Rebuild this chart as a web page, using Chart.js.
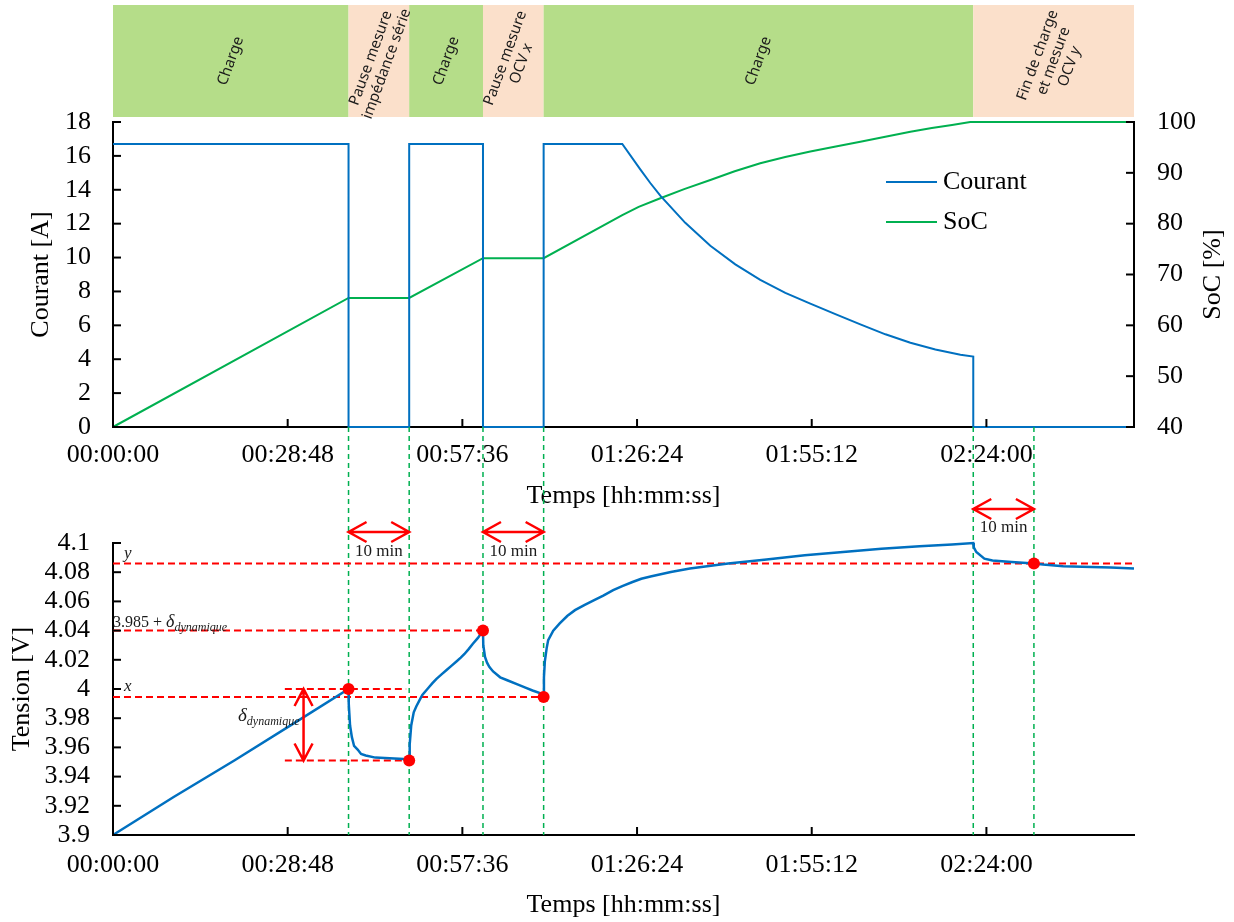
<!DOCTYPE html>
<html>
<head>
<meta charset="utf-8">
<script src="https://cdn.jsdelivr.net/npm/chart.js@4.4.1/dist/chart.umd.min.js"></script>
<style>
  html, body { margin: 0; padding: 0; background: #fff; }
  #wrap { position: relative; width: 1234px; height: 922px; }
  canvas { position: absolute; left: 0; top: 0; }
</style>
</head>
<body>
<div id="wrap">
  <canvas id="topChart" width="1234" height="922"></canvas>
  <canvas id="bottomChart" width="1234" height="922"></canvas>
</div>
<script>
// ---- data (time in seconds) ----
const tMax = 10100;
const timeTicks = [0, 1728, 3456, 5184, 6912, 8640];

const phaseStart = [0, 2330, 2930, 3660, 4260, 8510];
const phaseEnd = [2330, 2930, 3660, 4260, 8510, 10100];
const phaseIsCharge = [true, false, true, false, true, false];
const phaseLabels = [
  ['Charge'],
  ['Pause mesure', 'impédance série'],
  ['Charge'],
  ['Pause mesure', 'OCV *x*'],
  ['Charge'],
  ['Fin de charge', 'et mesure', 'OCV *y*']
];
const markerTimes = [2330, 2930, 3660, 4260, 8510, 9110];

const courantTime = [0, 2330, 2330, 2930, 2930, 3660, 3660, 4260, 4260, 5038, 5216, 5315, 5414, 5661, 5909, 6156, 6403, 6651,
  6898, 7146, 7393, 7641, 7888, 8135, 8383, 8510, 8510, 10100];
const courantVal = [16.7, 16.7, 0, 0, 16.7, 16.7, 0, 0, 16.7, 16.7, 15.2, 14.4, 13.65, 12.05, 10.7, 9.6, 8.68, 7.92,
  7.28, 6.66, 6.06, 5.47, 4.97, 4.57, 4.27, 4.16, 0, 0];

const socTime = [0, 2330, 2930, 3660, 4260, 5038, 5200, 5414, 5650, 5909, 6150, 6403, 6650, 6898, 7150, 7393, 7640,
  7888, 8100, 8300, 8480, 10100];
const socVal = [40, 65.4, 65.4, 73.2, 73.2, 81.7, 83.3, 85.0, 86.8, 88.6, 90.3, 91.9, 93.1, 94.2, 95.2, 96.1, 97.1,
  98.1, 98.8, 99.4, 100, 100];

const tensionTime = [0, 600, 1200, 1800, 2330,
  2332, 2345, 2363, 2385, 2420, 2454, 2500, 2595, 2877, 2930,
  2935, 2950, 2975, 3000, 3030, 3060, 3123, 3160, 3200, 3250, 3300, 3350, 3400, 3440, 3477, 3520, 3560, 3610, 3660,
  3663, 3680, 3700, 3724, 3760, 3830, 3900, 4007, 4080, 4150, 4230, 4260,
  4263, 4272, 4290, 4305, 4355, 4419, 4493, 4570, 4662, 4760, 4850, 4948, 5038, 5139, 5226, 5328, 5518, 5707,
  6086, 6465, 6843, 7222, 7601, 7979, 8300, 8510,
  8515, 8540, 8620, 8700, 8890, 9110, 9200, 9400, 9870, 10100];
const tensionVal = [3.900, 3.926, 3.951, 3.977, 4.000,
  3.990, 3.975, 3.967, 3.961, 3.9585, 3.9555, 3.9545, 3.953, 3.952, 3.951,
  3.962, 3.975, 3.984, 3.988, 3.992, 3.996, 4.001, 4.004, 4.007, 4.010, 4.013, 4.016, 4.019, 4.0215, 4.024, 4.0275, 4.031, 4.035, 4.040,
  4.030, 4.022, 4.018, 4.015, 4.012, 4.008, 4.006, 4.003, 4.001, 3.999, 3.997, 3.9945,
  4.008, 4.019, 4.028, 4.0335, 4.040, 4.0449, 4.050, 4.054, 4.0575, 4.0608, 4.064, 4.0677, 4.0705, 4.0733, 4.0755, 4.0772, 4.0802, 4.0825,
  4.0859, 4.0887, 4.0916, 4.0938, 4.0961, 4.0978, 4.099, 4.100,
  4.097, 4.0938, 4.0893, 4.088, 4.087, 4.086, 4.0852, 4.0841, 4.0832, 4.0825];

const pointTime = [2330, 2930, 3660, 4260, 9110];
const pointVal = [4.000, 3.951, 4.040, 3.9945, 4.086];

// annotation extents for the delta bracket
const deltaLineFrom = 1700;
const deltaLineTo = 2900;
const deltaArrowAt = 1885;

const serif = '"Liberation Serif", "Times New Roman", serif';
const bandFont = '"Noto Sans", "Liberation Sans", sans-serif';
Chart.defaults.font.family = serif;
Chart.defaults.font.size = 26;
Chart.defaults.color = '#000';

function hms(sec) {
  const h = Math.floor(sec / 3600), m = Math.floor((sec % 3600) / 60), s = Math.round(sec % 60);
  return [h, m, s].map(v => String(v).padStart(2, '0')).join(':');
}

function xy(ts, vs) {
  return ts.map((t, i) => ({ x: t, y: vs[i] }));
}

function parseRuns(line) {
  return line.split('*').map((t, i) => ({ t, italic: i % 2 === 1 })).filter(r => r.t);
}

function drawRunsCentered(ctx, runs, size, family, y) {
  let w = 0;
  runs.forEach(r => {
    ctx.font = (r.italic ? 'italic ' : '') + size + 'px ' + family;
    r.w = ctx.measureText(r.t).width;
    w += r.w;
  });
  let x = -w / 2;
  runs.forEach(r => {
    ctx.font = (r.italic ? 'italic ' : '') + size + 'px ' + family;
    ctx.fillText(r.t, x, y);
    x += r.w;
  });
}

// draws an optional prefix, then "main" with an italic subscript (baseline y)
function drawSub(ctx, x, y, prefix, main, sub, big) {
  ctx.textAlign = 'left';
  ctx.textBaseline = 'alphabetic';
  if (prefix) {
    ctx.font = '16px ' + serif;
    ctx.fillText(prefix, x, y);
    x += ctx.measureText(prefix).width;
  }
  ctx.font = 'italic ' + big + 'px ' + serif;
  ctx.fillText(main, x, y);
  x += ctx.measureText(main).width;
  ctx.font = 'italic ' + Math.round(big * 0.65) + 'px ' + serif;
  ctx.fillText(sub, x, y + 4);
}

const gridOff = { display: false, drawTicks: false };
const axisBorder = { display: true, color: '#000', width: 2 };

const inwardTicks = {
  id: 'inwardTicks',
  afterDraw(chart) {
    const ctx = chart.ctx, a = chart.chartArea;
    ctx.save();
    ctx.strokeStyle = '#000';
    ctx.lineWidth = 2;
    Object.values(chart.scales).forEach(s => {
      s.ticks.forEach(t => {
        const p = s.getPixelForValue(t.value);
        ctx.beginPath();
        if (s.axis === 'x') { ctx.moveTo(p, a.bottom); ctx.lineTo(p, a.bottom - 8); }
        else if (s.position === 'left') { ctx.moveTo(a.left, p); ctx.lineTo(a.left + 8, p); }
        else { ctx.moveTo(a.right, p); ctx.lineTo(a.right - 8, p); }
        ctx.stroke();
      });
    });
    ctx.restore();
  }
};

const phaseBands = {
  id: 'phaseBands',
  afterDraw(chart) {
    const ctx = chart.ctx, x = chart.scales.x;
    ctx.save();
    const px = phaseStart.map((t0, i) => [x.getPixelForValue(t0), x.getPixelForValue(phaseEnd[i])]);
    px.forEach(([x0, x1], i) => {
      ctx.fillStyle = phaseIsCharge[i] ? '#b5dd89' : '#fbe0cb';
      ctx.fillRect(x0, 5, x1 - x0, 112);
    });
    px.forEach(([x0, x1], i) => {
      ctx.save();
      ctx.translate((x0 + x1) / 2, 61);
      ctx.rotate(-70 * Math.PI / 180);
      ctx.fillStyle = '#1a1a1a';
      ctx.textAlign = 'left';
      ctx.textBaseline = 'middle';
      const lines = phaseLabels[i];
      lines.forEach((ln, k) => drawRunsCentered(ctx, parseRuns(ln), 15, bandFont, (k - (lines.length - 1) / 2) * 17));
      ctx.restore();
    });
    ctx.restore();
  }
};

const topDecor = {
  id: 'topDecor',
  afterDraw(chart) {
    const ctx = chart.ctx, a = chart.chartArea;
    ctx.save();
    // legend
    const items = [['Courant', '#0070c0', 182], ['SoC', '#00b050', 222]];
    ctx.lineWidth = 2;
    ctx.font = '26px ' + serif;
    ctx.textAlign = 'left';
    ctx.textBaseline = 'middle';
    items.forEach(([txt, col, yy]) => {
      ctx.strokeStyle = col;
      ctx.beginPath(); ctx.moveTo(886, yy); ctx.lineTo(937, yy); ctx.stroke();
      ctx.fillStyle = '#000';
      ctx.fillText(txt, 943, yy);
    });
    // right axis title, reading bottom to top
    ctx.translate(1213, (a.top + a.bottom) / 2);
    ctx.rotate(-Math.PI / 2);
    ctx.textAlign = 'center';
    ctx.fillText('SoC [%]', 0, 0);
    ctx.restore();
  }
};

const topChart = new Chart(document.getElementById('topChart'), {
  type: 'line',
  data: {
    datasets: [
      { label: 'Courant', data: xy(courantTime, courantVal), borderColor: '#0070c0', borderWidth: 2,
        pointRadius: 0, tension: 0, yAxisID: 'y', clip: false },
      { label: 'SoC', data: xy(socTime, socVal), borderColor: '#00b050', borderWidth: 2,
        pointRadius: 0, tension: 0, yAxisID: 'y1', clip: false }
    ]
  },
  options: {
    responsive: false,
    animation: false,
    events: [],
    layout: { padding: { top: 122, bottom: 410, left: 0, right: 0 } },
    plugins: { legend: { display: false }, tooltip: { enabled: false } },
    scales: {
      x: {
        type: 'linear', min: 0, max: tMax,
        afterBuildTicks: s => { s.ticks = timeTicks.map(v => ({ value: v })); },
        ticks: { callback: v => hms(v), padding: 13, maxRotation: 0, autoSkip: false },
        grid: gridOff, border: axisBorder,
        title: { display: true, text: 'Temps [hh:mm:ss]', padding: { top: 0, bottom: 0 } },
        afterFit: s => { s.height = 85; }
      },
      y: {
        position: 'left', min: 0, max: 18,
        ticks: { stepSize: 2, padding: 22, autoSkip: false },
        grid: gridOff, border: axisBorder,
        title: { display: true, text: 'Courant [A]', padding: { top: 26, bottom: 0 } },
        afterFit: s => { s.width = 113; }
      },
      y1: {
        position: 'right', min: 40, max: 100,
        ticks: { stepSize: 10, padding: 23, autoSkip: false },
        grid: gridOff, border: axisBorder,
        afterFit: s => { s.width = 100; }
      }
    }
  },
  plugins: [phaseBands, topDecor, inwardTicks]
});

function hArrow(ctx, x0, x1, y) {
  ctx.beginPath();
  ctx.moveTo(x0, y); ctx.lineTo(x1, y);
  ctx.moveTo(x0 + 18, y - 10); ctx.lineTo(x0, y); ctx.lineTo(x0 + 18, y + 10);
  ctx.moveTo(x1 - 18, y - 10); ctx.lineTo(x1, y); ctx.lineTo(x1 - 18, y + 10);
  ctx.stroke();
}

function vArrow(ctx, x, y0, y1) {
  ctx.beginPath();
  ctx.moveTo(x, y0); ctx.lineTo(x, y1);
  ctx.moveTo(x - 9, y0 + 17); ctx.lineTo(x, y0); ctx.lineTo(x + 9, y0 + 17);
  ctx.moveTo(x - 9, y1 - 17); ctx.lineTo(x, y1); ctx.lineTo(x + 9, y1 - 17);
  ctx.stroke();
}

function seg(ctx, x0, y0, x1, y1) {
  ctx.beginPath(); ctx.moveTo(x0, y0); ctx.lineTo(x1, y1); ctx.stroke();
}

const bottomDecor = {
  id: 'bottomDecor',
  beforeDatasetsDraw(chart) {
    const { ctx, chartArea: a, scales: { x, y } } = chart;
    ctx.save();
    // phase boundaries, running down from the upper chart's axis
    ctx.strokeStyle = '#00b050';
    ctx.lineWidth = 1.5;
    ctx.setLineDash([5, 4]);
    const yTop = topChart.chartArea.bottom;
    markerTimes.forEach(t => {
      const px = x.getPixelForValue(t);
      seg(ctx, px, yTop, px, a.bottom);
    });
    // reference voltages
    ctx.strokeStyle = '#ff0000';
    ctx.lineWidth = 2;
    ctx.setLineDash([7, 4]);
    seg(ctx, a.left, y.getPixelForValue(pointVal[4]), a.right, y.getPixelForValue(pointVal[4]));
    seg(ctx, a.left, y.getPixelForValue(pointVal[2]), x.getPixelForValue(pointTime[2]), y.getPixelForValue(pointVal[2]));
    seg(ctx, a.left, y.getPixelForValue(pointVal[3]), x.getPixelForValue(pointTime[3]), y.getPixelForValue(pointVal[3]));
    seg(ctx, x.getPixelForValue(deltaLineFrom), y.getPixelForValue(pointVal[0]), x.getPixelForValue(deltaLineTo), y.getPixelForValue(pointVal[0]));
    seg(ctx, x.getPixelForValue(deltaLineFrom), y.getPixelForValue(pointVal[1]), x.getPixelForValue(pointTime[1]), y.getPixelForValue(pointVal[1]));
    ctx.restore();
  },
  afterDraw(chart) {
    const { ctx, chartArea: a, scales: { x, y } } = chart;
    ctx.save();
    ctx.strokeStyle = '#ff0000';
    ctx.lineWidth = 2.5;
    ctx.setLineDash([]);
    vArrow(ctx, x.getPixelForValue(deltaArrowAt), y.getPixelForValue(pointVal[0]), y.getPixelForValue(pointVal[1]));
    const arrows = [[0, 1, a.top - 11, a.top + 9], [2, 3, a.top - 11, a.top + 9], [4, 5, a.top - 34, a.top - 15]];
    ctx.fillStyle = '#1a1a1a';
    ctx.font = '17px ' + serif;
    ctx.textAlign = 'center';
    ctx.textBaseline = 'middle';
    arrows.forEach(([i0, i1, ya, yt]) => {
      const x0 = x.getPixelForValue(markerTimes[i0]), x1 = x.getPixelForValue(markerTimes[i1]);
      hArrow(ctx, x0, x1, ya);
      ctx.fillText('10 min', (x0 + x1) / 2, yt);
    });
    // level labels
    ctx.font = 'italic 17px ' + serif;
    ctx.textAlign = 'left';
    ctx.fillText('y', a.left + 11, y.getPixelForValue(pointVal[4]) - 10);
    ctx.fillText('x', a.left + 11, y.getPixelForValue(pointVal[3]) - 10);
    drawSub(ctx, a.left, y.getPixelForValue(pointVal[2]) - 4, '3.985 + ', 'δ', 'dynamique', 18);
    drawSub(ctx, 238, 721, '', 'δ', 'dynamique', 19);
    ctx.restore();
  }
};

const bottomChart = new Chart(document.getElementById('bottomChart'), {
  type: 'line',
  data: {
    datasets: [
      { label: 'points', data: xy(pointTime, pointVal), showLine: false, pointRadius: 6,
        pointBackgroundColor: '#ff0000', pointBorderWidth: 0, order: 0, clip: false },
      { label: 'Tension', data: xy(tensionTime, tensionVal), borderColor: '#0070c0', borderWidth: 2.5,
        pointRadius: 0, tension: 0, order: 1, clip: false }
    ]
  },
  options: {
    responsive: false,
    animation: false,
    events: [],
    layout: { padding: { top: 543, bottom: 0, left: 0, right: 100 } },
    plugins: { legend: { display: false }, tooltip: { enabled: false } },
    scales: {
      x: {
        type: 'linear', min: 0, max: tMax,
        afterBuildTicks: s => { s.ticks = timeTicks.map(v => ({ value: v })); },
        ticks: { callback: v => hms(v), padding: 15, maxRotation: 0, autoSkip: false },
        grid: gridOff, border: axisBorder,
        title: { display: true, text: 'Temps [hh:mm:ss]', padding: { top: 0, bottom: 1 } },
        afterFit: s => { s.height = 87; }
      },
      y: {
        position: 'left', min: 3.9, max: 4.1,
        ticks: { stepSize: 0.02, padding: 23, autoSkip: false, callback: v => String(+v.toFixed(2)) },
        grid: gridOff, border: axisBorder,
        title: { display: true, text: 'Tension [V]', padding: { top: 7, bottom: 0 } },
        afterFit: s => { s.width = 113; }
      }
    }
  },
  plugins: [bottomDecor, inwardTicks]
});
</script>
</body>
</html>
